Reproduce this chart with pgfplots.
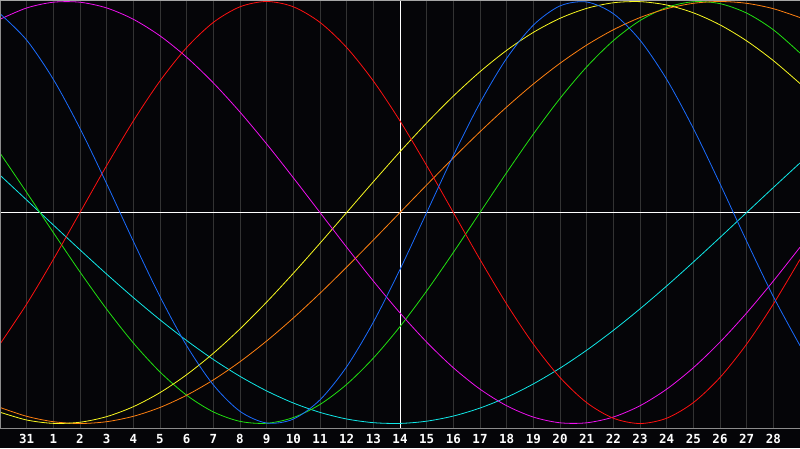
\documentclass[border=0pt]{standalone}
\usepackage{pgfplots}
\pgfplotsset{compat=1.18}
\usepackage{pgfplotstable}
\usepackage{fontspec}
\setmainfont{DejaVu Sans}
\setmonofont{DejaVu Sans Mono}
\definecolor{bg}{HTML}{050508}
\definecolor{gridc}{HTML}{333333}
\definecolor{framec}{HTML}{8C8C8C}
\definecolor{cred}{HTML}{FF1010}
\definecolor{cblue}{HTML}{1A6CFF}
\definecolor{cmag}{HTML}{F010F0}
\definecolor{cgreen}{HTML}{20E010}
\definecolor{ccyan}{HTML}{10E8E8}
\definecolor{cyellow}{HTML}{F8F820}
\definecolor{corange}{HTML}{FF8010}
\pgfplotstableread{
i red blue mag green cyan yellow orange
0 -0.6235 0.9423 0.9158 0.2817 0.1769 -0.9464 -0.9239
1 -0.4339 0.8170 0.9694 0.0951 0.0592 -0.9834 -0.9659
2 -0.2225 0.6311 0.9966 -0.0951 -0.0592 -0.9993 -0.9914
3 0 0.3984 0.9966 -0.2817 -0.1769 -0.9940 -1
4 0.2225 0.1362 0.9694 -0.4582 -0.2921 -0.9674 -0.9914
5 0.4339 -0.1362 0.9158 -0.6182 -0.4031 -0.9203 -0.9659
6 0.6235 -0.3984 0.8372 -0.7557 -0.5085 -0.8536 -0.9239
7 0.7818 -0.6311 0.7357 -0.8660 -0.6068 -0.7686 -0.8660
8 0.9010 -0.8170 0.6142 -0.9450 -0.6966 -0.6672 -0.7934
9 0.9749 -0.9423 0.4759 -0.9898 -0.7765 -0.5517 -0.7071
10 1 -0.9977 0.3247 -0.9989 -0.8456 -0.4244 -0.6088
11 0.9749 -0.9791 0.1646 -0.9718 -0.9028 -0.2881 -0.5
12 0.9010 -0.8879 0 -0.9096 -0.9473 -0.1456 -0.3827
13 0.7818 -0.7308 -0.1646 -0.8146 -0.9786 0 -0.2588
14 0.6235 -0.5196 -0.3247 -0.6901 -0.9960 0.1456 -0.1305
15 0.4339 -0.2698 -0.4759 -0.5406 -0.9996 0.2881 0
16 0.2225 0 -0.6142 -0.3717 -0.9890 0.4244 0.1305
17 0 0.2698 -0.7357 -0.1893 -0.9646 0.5517 0.2588
18 -0.2225 0.5196 -0.8372 0 -0.9267 0.6672 0.3827
19 -0.4339 0.7308 -0.9158 0.1893 -0.8758 0.7686 0.5
20 -0.6235 0.8879 -0.9694 0.3717 -0.8124 0.8536 0.6088
21 -0.7818 0.9791 -0.9966 0.5406 -0.7376 0.9203 0.7071
22 -0.9010 0.9977 -0.9966 0.6901 -0.6527 0.9674 0.7934
23 -0.9749 0.9423 -0.9694 0.8146 -0.5586 0.9940 0.8660
24 -1 0.8170 -0.9158 0.9096 -0.4566 0.9993 0.9239
25 -0.9749 0.6311 -0.8372 0.9718 -0.3482 0.9834 0.9659
26 -0.9010 0.3984 -0.7357 0.9989 -0.2349 0.9464 0.9914
27 -0.7818 0.1362 -0.6142 0.9898 -0.1183 0.8893 1
28 -0.6235 -0.1362 -0.4759 0.9450 0 0.8133 0.9914
29 -0.4339 -0.3984 -0.3247 0.8660 0.1183 0.7199 0.9659
30 -0.2225 -0.6311 -0.1646 0.7557 0.2349 0.6112 0.9239
}\bio
\begin{document}
\begin{tikzpicture}
\fill[bg] (0,-20pt) rectangle (800pt,428pt);
\useasboundingbox (0,-20pt) rectangle (800pt,428pt);
\begin{axis}[
  at={(0,0)}, anchor=south west,
  scale only axis, width=800pt, height=428pt,
  xmin=0, xmax=30, ymin=-1.0213, ymax=1.0071,
  axis line style={draw=none},
  xtick={1,...,29},
  xticklabels={31,1,2,3,4,5,6,7,8,9,10,11,12,13,14,15,16,17,18,19,20,21,22,23,24,25,26,27,28},
  ytick=\empty,
  major tick length=0pt,
  xmajorgrids, grid style={gridc, line width=1pt},
  xticklabel style={font=\ttfamily\bfseries\fontsize{12.5}{13}\selectfont, text=white, anchor=base, yshift=-15pt},
  clip=true,
  every axis plot/.append style={line width=0.8pt, smooth},
]
\addplot[white, line width=1pt, sharp plot] coordinates {(0,0) (30,0)};
\addplot[white, line width=1pt, sharp plot] coordinates {(15,-1.0213) (15,1.0071)};
\addplot[ccyan] table[x=i, y=cyan] {\bio};
\addplot[cgreen] table[x=i, y=green] {\bio};
\addplot[corange] table[x=i, y=orange] {\bio};
\addplot[cyellow] table[x=i, y=yellow] {\bio};
\addplot[cmag] table[x=i, y=mag] {\bio};
\addplot[cred] table[x=i, y=red] {\bio};
\addplot[cblue] table[x=i, y=blue] {\bio};
\draw[framec, line width=1pt] (rel axis cs:0,1) -- (rel axis cs:0,0) -- (rel axis cs:1,0);
\draw[gray!70, line width=0.8pt] (rel axis cs:0,1) -- (rel axis cs:1,1);
\end{axis}
\end{tikzpicture}
\end{document}
